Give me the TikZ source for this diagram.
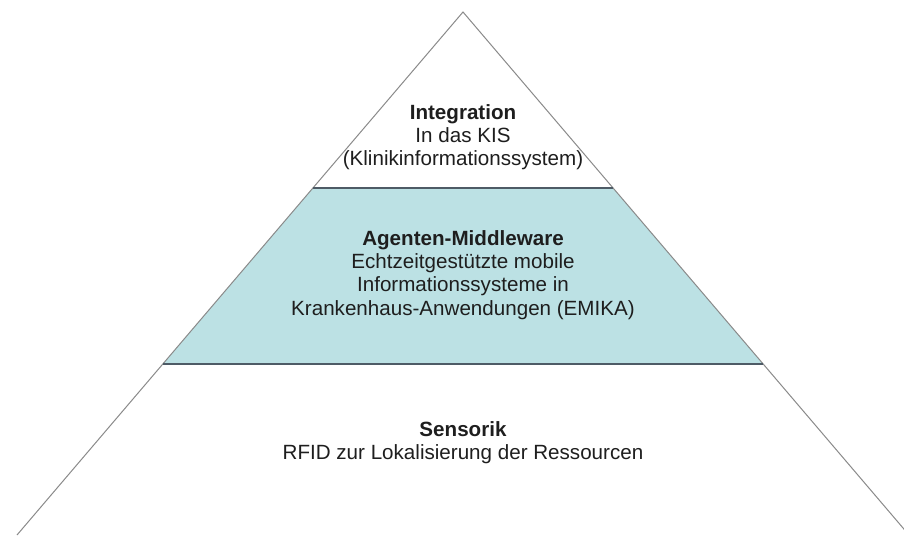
\documentclass[tikz,border=0pt]{standalone}
\usepackage{fontspec}
\setmainfont{Liberation Sans}
\usetikzlibrary{positioning,calc}
\definecolor{ink}{HTML}{1E1E1E}
\definecolor{edge}{HTML}{8A8A8A}
\definecolor{band}{HTML}{4E5B66}
\definecolor{aqua}{HTML}{BCE1E4}

\begin{document}
\begin{tikzpicture}[x=1pt,y=-1pt,
  layer/.style={font=\fontsize{20.6}{23.3}\selectfont, text=ink, align=center, inner sep=0pt}]
\useasboundingbox (0,0) rectangle (904,535);
\clip (0,0) rectangle (904,535);
\fill[white] (0,0) rectangle (904,535);
% pyramid outline
\coordinate (apex) at (463,12);
\coordinate (bl) at (17,535);
\coordinate (br) at (909,535);
\coordinate (l1) at ($(apex)!0.337!(bl)$);
\coordinate (r1) at ($(apex)!0.337!(br)$);
\coordinate (l2) at ($(apex)!0.673!(bl)$);
\coordinate (r2) at ($(apex)!0.673!(br)$);
\fill[aqua] (l1) -- (r1) -- (r2) -- (l2) -- cycle;
\draw[edge, line width=1pt] (bl) -- (apex) -- (br);
\draw[band, line width=1.8pt] (l1) -- (r1) (l2) -- (r2);
% layers
\node[layer] (integ) at (463,137) {\textbf{Integration}\\In das KIS\\(Klinikinformationssystem)};
\node[layer] (middle) at (463,275) {\textbf{Agenten-Middleware}\\Echtzeitgestützte mobile\\Informationssysteme in\\Krankenhaus-Anwendungen (EMIKA)};
\node[layer] (sensor) at (463,443) {\textbf{Sensorik}\\RFID zur Lokalisierung der Ressourcen};
\end{tikzpicture}
\end{document}
